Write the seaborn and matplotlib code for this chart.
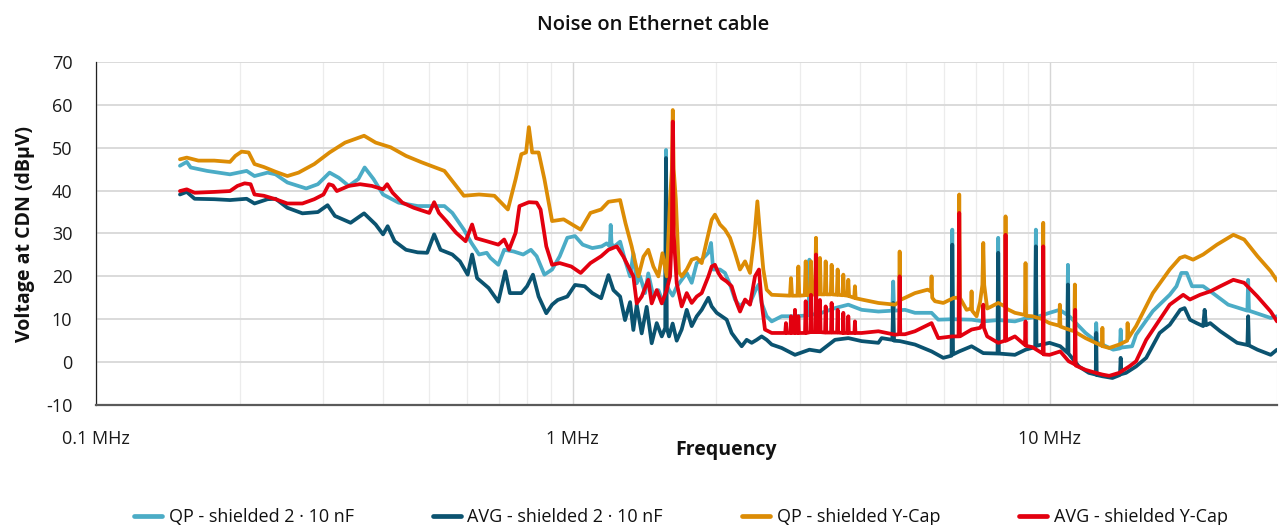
import matplotlib
matplotlib.use('Agg')
import matplotlib.pyplot as plt
import pandas as pd
import seaborn as sns
from matplotlib.ticker import FixedLocator, NullFormatter

# (frequency in MHz, level in dBuV)
qp_2x10nf = [
    (0.150, 45.8), (0.155, 46.7), (0.158, 45.4), (0.171, 44.6), (0.191, 43.8), (0.207, 44.6),
    (0.215, 43.4), (0.229, 44.2), (0.238, 43.8), (0.252, 41.9), (0.276, 40.5), (0.292, 41.5),
    (0.309, 44.2), (0.323, 43.0), (0.339, 41.1), (0.355, 42.7), (0.366, 45.4), (0.382, 42.7),
    (0.400, 39.1), (0.431, 37.2), (0.473, 36.4), (0.538, 36.4), (0.559, 34.8), (0.591, 30.9),
    (0.613, 27.8), (0.636, 25.1), (0.660, 25.5), (0.672, 24.3), (0.698, 22.7), (0.718, 26.2),
    (0.752, 25.8), (0.787, 25.1), (0.817, 26.2), (0.840, 24.7), (0.872, 20.4), (0.905, 21.6),
    (0.939, 24.7), (0.974, 29.0), (1.011, 29.4), (1.049, 27.4), (1.099, 26.6), (1.150, 27.0),
    (1.178, 27.7), (1.196, 27.0), (1.201, 32.0), (1.206, 27.5), (1.223, 27.0), (1.257, 28.1),
    (1.287, 23.8), (1.319, 20.0), (1.340, 25.4), (1.362, 18.4), (1.384, 20.0), (1.418, 16.1),
    (1.440, 20.7), (1.476, 15.3), (1.512, 16.8), (1.549, 13.7), (1.563, 16.0), (1.569, 49.5),
    (1.575, 18.0), (1.592, 16.8), (1.620, 15.5), (1.652, 17.6), (1.692, 19.2), (1.734, 20.8),
    (1.776, 18.5), (1.820, 23.1), (1.864, 23.9), (1.925, 25.5), (1.950, 27.8), (1.970, 21.6),
    (2.036, 21.6), (2.086, 20.8), (2.137, 18.1), (2.189, 14.6), (2.243, 13.0), (2.298, 14.2),
    (2.354, 13.8), (2.420, 16.9), (2.455, 18.1), (2.490, 13.8), (2.551, 10.7), (2.614, 9.5),
    (2.743, 10.7), (2.925, 10.7), (3.125, 10.9), (3.136, 23.9), (3.147, 11.0), (3.327, 11.5),
    (3.548, 12.6), (3.784, 13.4), (4.036, 12.2), (4.375, 11.8), (4.680, 12.0), (4.700, 18.8),
    (4.720, 12.0), (4.975, 12.2), (5.221, 11.5), (5.657, 11.5), (5.843, 9.9), (6.230, 10.0),
    (6.252, 30.9), (6.275, 10.0), (6.863, 9.9), (7.262, 9.5), (7.780, 9.8), (7.805, 29.0),
    (7.830, 9.8), (8.461, 9.5), (8.906, 10.2), (9.330, 10.5), (9.361, 30.9), (9.390, 10.5),
    (10.00, 11.5), (10.50, 12.2), (10.90, 11.0), (10.93, 22.7), (10.96, 10.9), (11.90, 6.8),
    (12.48, 5.0), (12.53, 9.1), (12.58, 4.6), (12.91, 4.1), (13.60, 2.9), (14.05, 3.2),
    (14.10, 7.6), (14.15, 3.4), (14.90, 3.7), (15.19, 6.4), (16.47, 11.9), (17.87, 15.7),
    (18.46, 17.7), (18.90, 20.8), (19.40, 20.8), (19.90, 17.7), (21.00, 17.7), (22.00, 16.1),
    (23.70, 13.4), (26.00, 12.0), (26.10, 19.2), (26.20, 12.0), (29.10, 10.3), (30.00, 10.7),
]

avg_2x10nf = [
    (0.150, 39.1), (0.155, 39.7), (0.161, 38.1), (0.177, 38.0), (0.191, 37.8), (0.207, 38.1),
    (0.215, 37.0), (0.229, 38.0), (0.238, 38.1), (0.252, 36.0), (0.271, 34.7), (0.292, 35.0),
    (0.306, 36.6), (0.317, 34.1), (0.342, 32.5), (0.365, 34.7), (0.386, 32.1), (0.400, 29.8),
    (0.409, 31.7), (0.423, 28.2), (0.447, 26.2), (0.473, 25.6), (0.495, 25.5), (0.512, 29.8),
    (0.528, 26.2), (0.559, 25.1), (0.580, 23.5), (0.602, 20.4), (0.615, 25.1), (0.630, 19.6),
    (0.666, 17.3), (0.698, 14.1), (0.722, 21.2), (0.738, 16.1), (0.780, 16.1), (0.802, 17.7),
    (0.825, 20.4), (0.848, 15.3), (0.880, 11.4), (0.905, 13.4), (0.930, 14.5), (0.974, 15.3),
    (1.011, 18.0), (1.059, 17.7), (1.099, 16.1), (1.147, 14.9), (1.188, 20.3), (1.217, 16.8),
    (1.257, 15.3), (1.287, 9.8), (1.319, 14.0), (1.340, 7.5), (1.362, 13.4), (1.395, 6.7),
    (1.429, 12.9), (1.464, 4.4), (1.500, 9.1), (1.537, 6.0), (1.563, 8.0), (1.569, 47.6),
    (1.575, 8.0), (1.592, 6.0), (1.620, 9.0), (1.652, 5.0), (1.692, 7.6), (1.734, 12.2),
    (1.776, 8.4), (1.820, 10.7), (1.864, 12.2), (1.925, 15.0), (1.956, 13.0), (2.004, 11.5),
    (2.053, 10.7), (2.103, 9.9), (2.154, 6.8), (2.207, 5.2), (2.261, 3.7), (2.316, 5.2),
    (2.373, 4.5), (2.431, 5.2), (2.490, 6.0), (2.551, 5.2), (2.614, 4.1), (2.743, 3.3),
    (2.925, 1.7), (3.136, 2.9), (3.300, 2.5), (3.548, 5.2), (3.784, 5.6), (4.036, 4.9),
    (4.375, 4.5), (4.445, 5.6), (4.680, 5.2), (4.700, 13.8), (4.720, 5.0), (4.856, 4.9),
    (5.221, 4.1), (5.657, 2.5), (5.986, 1.0), (6.230, 1.5), (6.252, 27.4), (6.275, 1.8),
    (6.466, 2.5), (6.863, 3.7), (7.262, 2.1), (7.780, 2.0), (7.805, 25.5), (7.830, 2.0),
    (8.461, 1.7), (8.906, 2.9), (9.330, 3.5), (9.361, 27.0), (9.390, 3.8), (10.00, 4.5),
    (10.53, 3.7), (10.90, 2.2), (10.93, 18.1), (10.96, 2.0), (11.52, -1.0), (12.09, -2.5),
    (12.50, -2.9), (12.53, 6.8), (12.56, -3.0), (12.91, -3.3), (13.55, -3.7), (14.05, -3.0),
    (14.10, 1.0), (14.15, -2.8), (14.47, -2.5), (15.19, -1.0), (15.95, 1.0), (17.02, 6.8),
    (17.87, 8.7), (18.80, 12.2), (19.20, 12.6), (19.70, 9.9), (20.35, 9.1), (21.00, 8.4),
    (21.15, 12.2), (21.30, 8.6), (21.73, 9.1), (22.81, 7.2), (24.75, 4.5), (26.00, 4.0),
    (26.10, 10.7), (26.20, 3.9), (27.30, 2.9), (29.10, 1.7), (30.00, 2.9),
]

qp_ycap = [
    (0.150, 47.3), (0.155, 47.7), (0.164, 47.0), (0.177, 47.0), (0.191, 46.7), (0.196, 48.1),
    (0.202, 49.1), (0.209, 48.9), (0.215, 46.2), (0.225, 45.5), (0.238, 44.4), (0.252, 43.4),
    (0.266, 44.2), (0.287, 46.2), (0.309, 48.9), (0.333, 51.2), (0.365, 52.8), (0.386, 51.2),
    (0.415, 50.1), (0.447, 48.1), (0.482, 46.6), (0.538, 44.6), (0.591, 38.8), (0.636, 39.1),
    (0.685, 38.8), (0.731, 35.6), (0.759, 42.7), (0.780, 48.5), (0.798, 48.9), (0.809, 54.8),
    (0.822, 48.9), (0.848, 48.9), (0.872, 42.7), (0.905, 32.9), (0.957, 33.3), (1.039, 30.9),
    (1.089, 34.8), (1.147, 35.6), (1.188, 37.4), (1.257, 37.8), (1.290, 32.4), (1.329, 27.0),
    (1.373, 20.0), (1.407, 24.6), (1.440, 26.2), (1.476, 22.3), (1.512, 20.0), (1.542, 25.4),
    (1.574, 20.0), (1.600, 38.0), (1.614, 45.0), (1.621, 58.8), (1.628, 45.0), (1.645, 38.0),
    (1.670, 21.0), (1.692, 20.0), (1.734, 21.6), (1.776, 23.9), (1.820, 24.3), (1.864, 23.1),
    (1.909, 28.2), (1.956, 33.2), (1.987, 34.4), (2.036, 32.1), (2.086, 30.9), (2.137, 29.0),
    (2.189, 25.5), (2.243, 21.6), (2.298, 23.5), (2.354, 20.8), (2.404, 29.3), (2.439, 37.5),
    (2.470, 30.1), (2.510, 21.6), (2.551, 16.9), (2.614, 15.7),
    (2.855, 15.5), (2.869, 19.6), (2.883, 15.5), (2.960, 15.5), (2.973, 22.3), (2.986, 15.5),
    (3.066, 15.6), (3.080, 23.5), (3.094, 15.6), (3.146, 15.7), (3.160, 23.5), (3.174, 15.7),
    (3.223, 15.8), (3.237, 29.0), (3.251, 15.8), (3.286, 15.8), (3.300, 24.3), (3.314, 15.8),
    (3.378, 15.8), (3.392, 23.5), (3.406, 15.8), (3.477, 15.8), (3.491, 22.7), (3.505, 15.8),
    (3.580, 15.7), (3.594, 21.6), (3.608, 15.7), (3.680, 15.6), (3.694, 20.4), (3.708, 15.6),
    (3.770, 15.5), (3.784, 19.2), (3.798, 15.4), (3.893, 15.0), (3.907, 17.7), (3.921, 14.9),
    (4.036, 14.6), (4.375, 13.8), (4.740, 13.4), (4.835, 14.0), (4.849, 25.8), (4.863, 14.5),
    (4.975, 15.0), (5.221, 16.1), (5.550, 16.9), (5.640, 16.5), (5.657, 20.0), (5.675, 15.0),
    (5.750, 14.2), (5.986, 13.8), (6.300, 15.0), (6.445, 15.0), (6.466, 39.1), (6.487, 15.0),
    (6.700, 12.2), (6.845, 12.5), (6.863, 16.5), (6.880, 12.0), (7.031, 10.7), (7.150, 14.0),
    (7.230, 18.0), (7.262, 27.8), (7.295, 18.0), (7.400, 12.5), (7.558, 13.0), (7.805, 13.8),
    (8.065, 13.0), (8.087, 34.0), (8.110, 12.5), (8.461, 11.5), (8.880, 11.0), (8.906, 23.1),
    (8.930, 10.8), (9.200, 10.7), (9.680, 10.0), (9.701, 32.5), (9.722, 9.8), (10.00, 9.1),
    (10.48, 8.5), (10.51, 13.4), (10.54, 8.3), (10.97, 7.6), (11.27, 7.2), (11.30, 18.1),
    (11.33, 7.0), (11.90, 5.6), (12.88, 3.8), (12.91, 8.0), (12.94, 3.7), (13.34, 3.3),
    (14.00, 4.1), (14.55, 5.0), (14.58, 9.1), (14.61, 5.5), (15.19, 8.4), (16.47, 16.1),
    (17.87, 21.6), (18.77, 24.3), (19.23, 24.7), (20.00, 23.9), (21.00, 25.1), (22.45, 27.4),
    (24.30, 29.7), (25.60, 28.6), (27.30, 24.7), (29.10, 21.2), (30.00, 19.0),
]

avg_ycap = [
    (0.150, 39.9), (0.155, 40.3), (0.161, 39.5), (0.177, 39.7), (0.191, 39.9), (0.198, 41.1),
    (0.205, 41.7), (0.211, 41.5), (0.215, 39.1), (0.225, 38.8), (0.238, 38.0), (0.252, 37.0),
    (0.271, 37.0), (0.287, 38.0), (0.300, 39.1), (0.308, 41.5), (0.314, 41.2), (0.320, 39.9),
    (0.339, 41.1), (0.358, 41.5), (0.379, 41.1), (0.400, 40.3), (0.408, 41.5), (0.419, 39.5),
    (0.439, 37.2), (0.464, 36.0), (0.500, 34.8), (0.512, 37.3), (0.524, 34.8), (0.543, 32.9),
    (0.569, 30.2), (0.596, 28.2), (0.615, 32.1), (0.627, 28.9), (0.660, 28.2), (0.698, 27.4),
    (0.718, 28.6), (0.735, 26.2), (0.759, 30.2), (0.773, 36.4), (0.809, 37.3), (0.840, 37.2),
    (0.856, 35.6), (0.880, 27.0), (0.905, 22.7), (0.939, 23.1), (0.993, 22.3), (1.039, 20.8),
    (1.089, 23.1), (1.147, 24.7), (1.188, 26.2), (1.237, 27.0), (1.277, 24.6), (1.308, 22.3),
    (1.340, 20.0), (1.362, 13.7), (1.395, 15.3), (1.440, 19.2), (1.464, 13.7), (1.500, 16.8),
    (1.537, 13.7), (1.574, 16.8), (1.600, 20.0), (1.614, 30.0), (1.621, 56.1), (1.628, 30.0),
    (1.652, 18.4), (1.692, 13.0), (1.734, 16.1), (1.776, 13.8), (1.820, 15.3), (1.864, 16.1),
    (1.925, 20.0), (1.956, 22.3), (1.987, 22.7), (2.020, 20.8), (2.053, 19.6), (2.103, 18.8),
    (2.154, 17.7), (2.207, 13.8), (2.243, 11.8), (2.298, 14.6), (2.354, 13.4), (2.411, 20.0),
    (2.458, 21.6), (2.490, 13.8), (2.530, 7.6), (2.614, 6.8),
    (2.790, 6.8), (2.800, 9.1), (2.810, 6.8), (2.860, 6.8), (2.869, 10.7), (2.878, 6.8),
    (2.915, 6.8), (2.925, 12.2), (2.935, 6.8), (2.965, 6.8), (2.973, 10.7), (2.981, 6.8),
    (3.070, 6.8), (3.080, 14.2), (3.090, 6.8), (3.150, 7.0), (3.160, 15.7), (3.170, 7.0),
    (3.228, 7.0), (3.237, 25.1), (3.246, 7.0), (3.290, 7.0), (3.300, 14.5), (3.310, 7.0),
    (3.382, 6.9), (3.392, 13.0), (3.402, 6.9), (3.481, 6.9), (3.491, 13.8), (3.501, 6.9),
    (3.584, 6.9), (3.594, 12.2), (3.604, 6.9), (3.684, 6.8), (3.694, 11.5), (3.704, 6.8),
    (3.774, 6.8), (3.784, 10.7), (3.794, 6.8), (3.897, 6.8), (3.907, 9.5), (3.917, 6.8),
    (4.036, 6.8), (4.375, 7.2), (4.740, 6.4), (4.835, 6.5), (4.849, 20.0), (4.863, 6.5),
    (4.975, 6.5), (5.221, 7.2), (5.657, 9.1), (5.843, 5.6), (6.252, 6.0), (6.445, 6.0),
    (6.466, 34.8), (6.487, 6.0), (6.600, 6.5), (6.863, 7.6), (7.150, 8.0), (7.240, 9.0),
    (7.262, 13.4), (7.285, 8.0), (7.400, 6.0), (7.805, 4.5), (8.065, 5.0), (8.087, 29.7),
    (8.110, 5.0), (8.461, 6.0), (8.880, 4.0), (8.906, 9.5), (8.930, 3.8), (9.200, 3.5),
    (9.680, 2.0), (9.701, 27.0), (9.722, 1.8), (10.00, 1.7), (10.53, 2.5), (10.97, 0.2),
    (11.29, -0.5), (11.32, 12.2), (11.35, -0.8), (11.90, -1.8), (12.50, -2.5), (12.91, -2.9),
    (13.34, -3.2), (14.00, -2.5), (14.70, -1.0), (15.19, 0.2), (15.95, 5.2), (17.02, 9.9),
    (17.87, 13.4), (19.07, 15.7), (19.70, 14.6), (20.69, 15.7), (21.73, 16.5), (22.81, 17.7),
    (24.30, 19.2), (25.60, 18.5), (27.30, 15.3), (29.10, 11.8), (30.00, 9.5),
]

series_names = ['QP - shielded 2 · 10 nF', 'AVG - shielded 2 · 10 nF',
                'QP - shielded Y-Cap', 'AVG - shielded Y-Cap']
series_data = [qp_2x10nf, avg_2x10nf, qp_ycap, avg_ycap]
series_colors = ['#4bacc6', '#0b5370', '#dc8c05', '#e3000f']

y_ticks = list(range(-10, 71, 10))
x_ticks = [0.1, 1, 10]
x_tick_labels = ['0.1 MHz', '1 MHz', '10 MHz']


def main():
    frames = []
    for name, pts in zip(series_names, series_data):
        d = pd.DataFrame(pts, columns=['freq', 'level'])
        d['series'] = name
        frames.append(d)
    df = pd.concat(frames, ignore_index=True)

    sns.set_theme(style='white')
    plt.rcParams['font.family'] = ['Open Sans', 'DejaVu Sans']
    plt.rcParams['axes.unicode_minus'] = False

    fig = plt.figure(figsize=(12.79, 5.25), dpi=100)
    ax = fig.add_axes([96 / 1279, 1 - 405 / 525, (1277 - 96) / 1279, (405 - 62) / 525])

    sns.lineplot(data=df, x='freq', y='level', hue='series', hue_order=series_names,
                 palette=series_colors, estimator=None, sort=False, linewidth=2.7,
                 ax=ax, zorder=3)

    ax.set_xscale('log')
    ax.set_xlim(0.1, 30)
    ax.set_ylim(-10, 70)
    ax.set_yticks(y_ticks)
    ax.set_xticks(x_ticks)
    ax.set_xticklabels(x_tick_labels)
    minors = [m * d for d in (0.1, 1, 10) for m in range(2, 10) if m * d <= 30]
    ax.xaxis.set_minor_locator(FixedLocator(minors))
    ax.xaxis.set_minor_formatter(NullFormatter())

    ax.grid(True, axis='y', which='major', color='#dadada', linewidth=1.4, zorder=0)
    ax.grid(True, axis='x', which='major', color='#d6d6d6', linewidth=1.0, zorder=0)
    ax.grid(True, axis='x', which='minor', color='#ececec', linewidth=0.9, zorder=0)
    ax.set_axisbelow(True)

    for side in ('top', 'right'):
        ax.spines[side].set_visible(False)
    ax.spines['bottom'].set_color('#5a5a5a')
    ax.spines['bottom'].set_linewidth(1.6)
    ax.spines['left'].set_color('#222222')
    ax.spines['left'].set_linewidth(0.9)

    ax.tick_params(axis='x', which='major', direction='out', length=6, width=0.9,
                   color='#222222', pad=12, labelsize=13, labelcolor='#1a1a1a')
    ax.tick_params(axis='x', which='minor', length=0)
    ax.tick_params(axis='y', direction='out', length=6, width=0.9, color='#555555',
                   pad=11, labelsize=13, labelcolor='#1a1a1a')

    ax.set_xlabel('Frequency', fontsize=14, fontweight='bold', color='#111111')
    ax.xaxis.set_label_coords((726 - 96) / 1181, -(440 - 405) / 343)
    ax.set_ylabel('Voltage at CDN (dBµV)', fontsize=14, fontweight='bold', color='#111111',
                  labelpad=8)

    fig.text(653 / 1279, 1 - 25 / 525, 'Noise on Ethernet cable', ha='center', va='center',
             fontsize=14.5, fontweight='semibold', color='#111111')

    handles, labels = ax.get_legend_handles_labels()
    ax.get_legend().remove()
    for h in handles:
        h.set_linewidth(3.4)
    fig.legend(handles, labels, loc='center', bbox_to_anchor=(681 / 1279, 1 - 517 / 525),
               ncol=4, frameon=False, fontsize=13, handlelength=1.55, handletextpad=0.35,
               columnspacing=4.4, labelcolor='#111111')

    fig.savefig('out.png', dpi=100)


if __name__ == '__main__':
    main()
